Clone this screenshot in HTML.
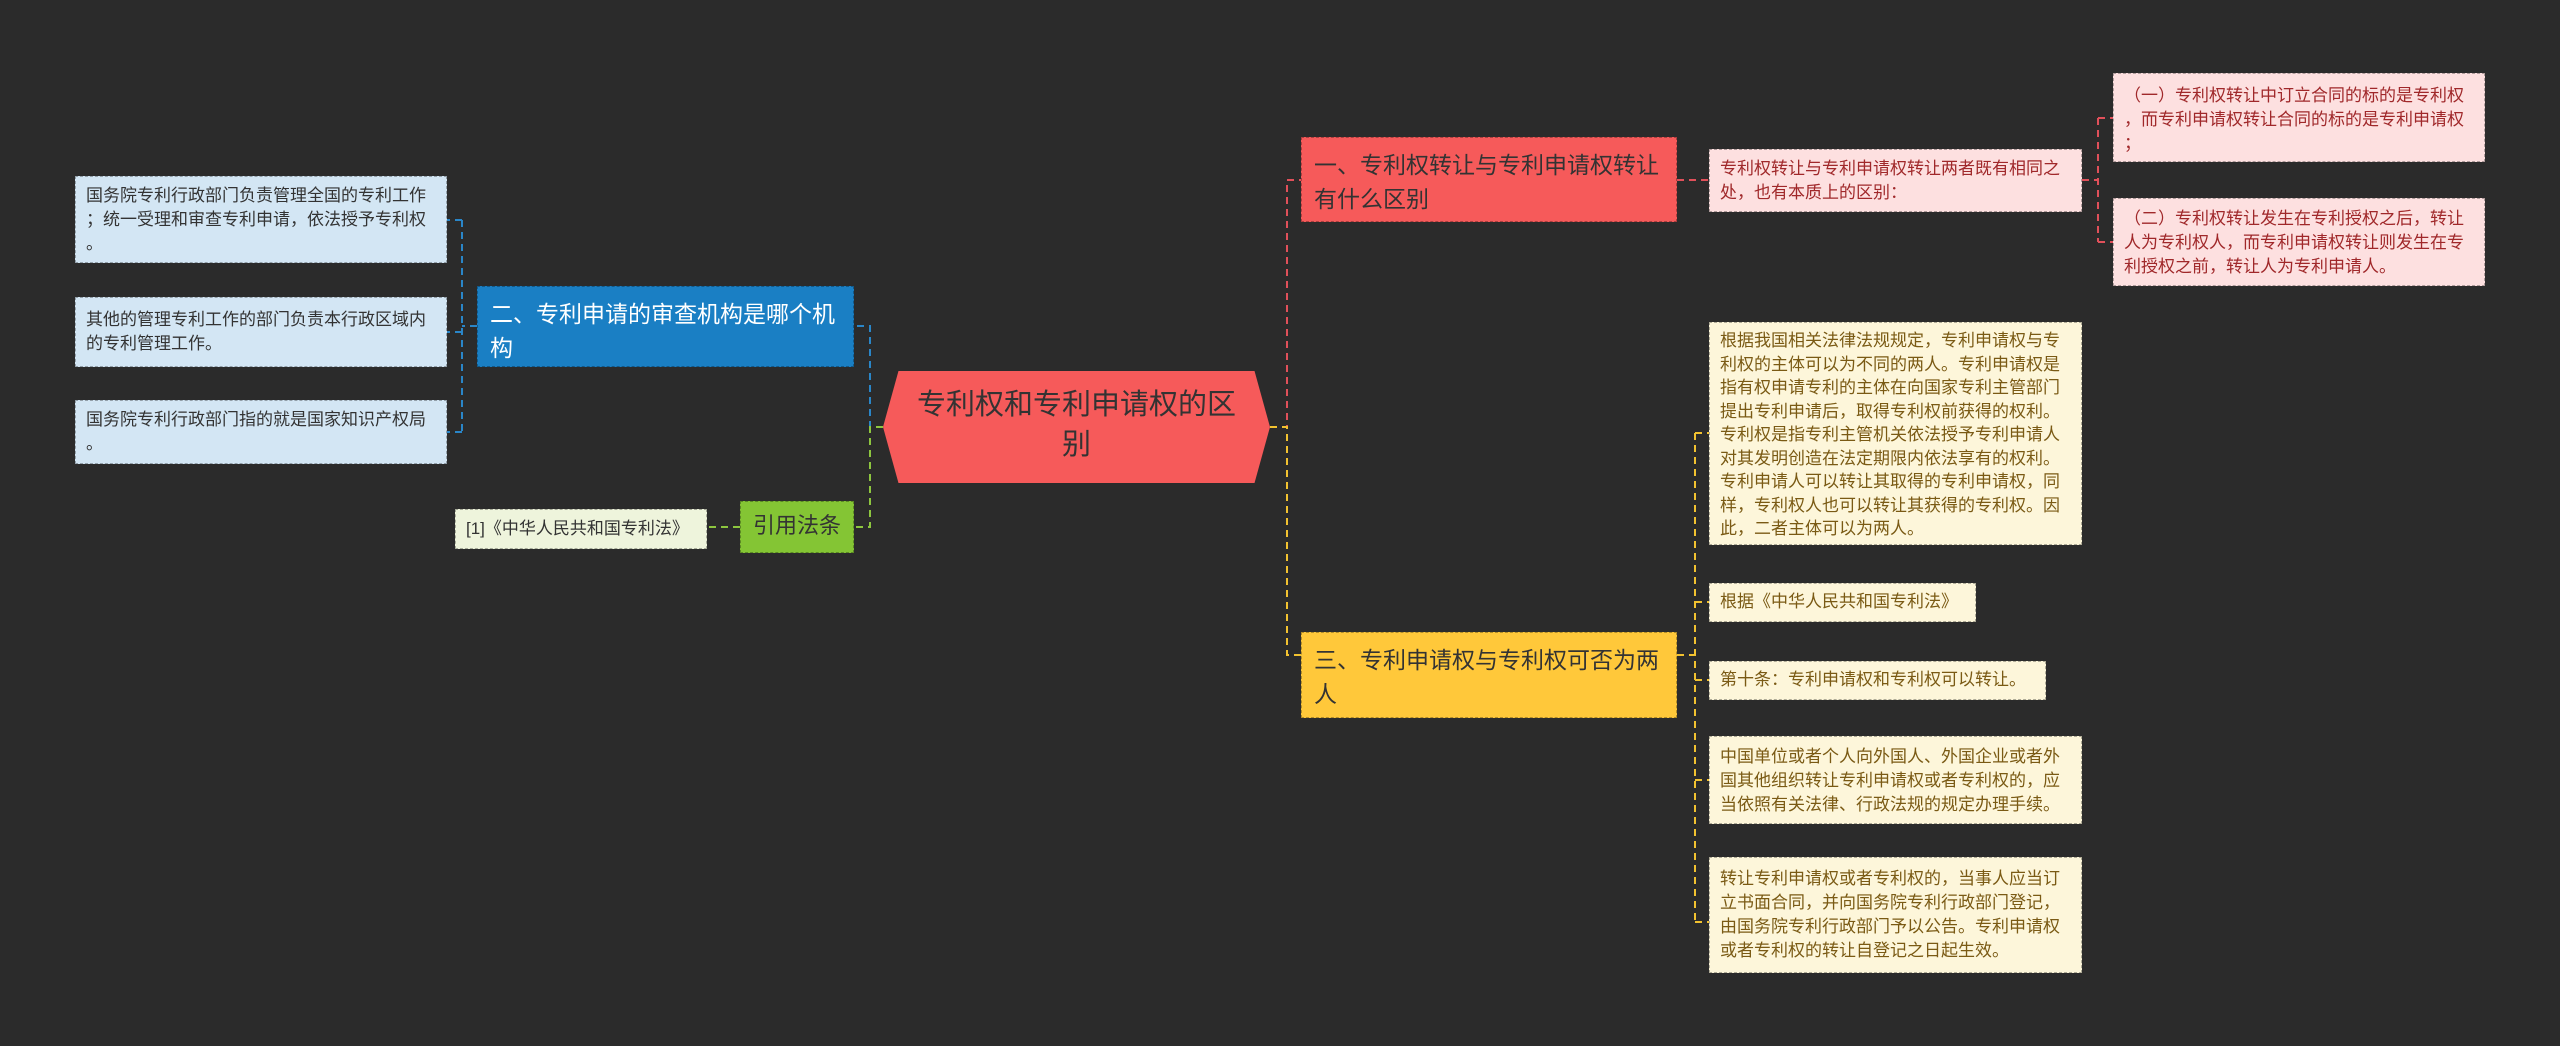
<!DOCTYPE html>
<html><head><meta charset="utf-8"><style>
body{margin:0;width:2560px;height:1046px;background:#2b2b2b;position:relative;overflow:hidden;font-family:"Liberation Sans","Noto Sans CJK SC",sans-serif}
.n{position:absolute;box-sizing:border-box;padding:7px 10px;font-size:17px;line-height:24px;border:1px dashed rgba(0,0,0,0.3);line-break:anywhere;word-break:break-all}
.lb{background:#d3e6f4;color:#333}
.pk{background:#fde0e0;color:#a0282a}
.yl{background:#fdf6da;color:#7a5a14}
.big{font-size:23px;line-height:34px;padding:10px 12px}
svg{position:absolute;left:0;top:0}
</style></head><body>
<svg width="2560" height="1046" fill="none" stroke-width="2" stroke-dasharray="7,5">
<g stroke="#2a86c8"><path d="M883 427H870V326H854"/><path d="M477 326H462M462 220V432M462 220H447M462 332H447M462 432H447"/></g>
<g stroke="#8dc63f"><path d="M883 427H870V527H854"/><path d="M740 527H707"/></g>
<g stroke="#e0505a"><path d="M1270 427H1287V180H1301"/><path d="M1677 180H1709"/><path d="M2082 180H2098M2098 118V242M2098 118H2113M2098 242H2113"/></g>
<g stroke="#f2c230"><path d="M1270 427H1287V655H1301"/><path d="M1677 655H1695M1695 433V922M1695 433H1709M1695 602H1709M1695 680H1709M1695 780H1709M1695 922H1709"/></g>
</svg>
<div class="n" style="left:883px;top:371px;width:387px;height:112px;background:#f65a5a;color:#333;font-size:29px;line-height:40px;text-align:center;padding:14px 26px;border:none;clip-path:polygon(4% 0,96% 0,100% 50%,96% 100%,4% 100%,0 50%)">专利权和专利申请权的区别</div>
<div class="n big" style="left:477px;top:286px;width:377px;height:81px;background:#1a7fc4;color:#fff">二、专利申请的审查机构是哪个机构</div>
<div class="n lb" style="left:75px;top:176px;width:372px;height:87px">国务院专利行政部门负责管理全国的专利工作；统一受理和审查专利申请，依法授予专利权。</div>
<div class="n lb" style="left:75px;top:297px;width:372px;height:70px;padding-top:10px">其他的管理专利工作的部门负责本行政区域内的专利管理工作。</div>
<div class="n lb" style="left:75px;top:400px;width:372px;height:64px">国务院专利行政部门指的就是国家知识产权局。</div>
<div class="n big" style="left:740px;top:501px;width:114px;height:52px;background:#84c534;color:#333;padding:7px 6px;font-size:22px;text-align:center">引用法条</div>
<div class="n" style="left:455px;top:509px;width:252px;height:40px;background:#eef4dc;color:#333;padding:7px 10px">[1]《中华人民共和国专利法》</div>
<div class="n big" style="left:1301px;top:137px;width:376px;height:85px;background:#f65a5a;color:#333">一、专利权转让与专利申请权转让有什么区别</div>
<div class="n pk" style="left:1709px;top:149px;width:373px;height:63px">专利权转让与专利申请权转让两者既有相同之处，也有本质上的区别：</div>
<div class="n pk" style="left:2113px;top:73px;width:372px;height:89px;padding-top:10px">（一）专利权转让中订立合同的标的是专利权，而专利申请权转让合同的标的是专利申请权；</div>
<div class="n pk" style="left:2113px;top:198px;width:372px;height:88px;padding-top:8px">（二）专利权转让发生在专利授权之后，转让人为专利权人，而专利申请权转让则发生在专利授权之前，转让人为专利申请人。</div>
<div class="n big" style="left:1301px;top:632px;width:376px;height:86px;background:#ffc83a;color:#333">三、专利申请权与专利权可否为两人</div>
<div class="n yl" style="left:1709px;top:322px;width:373px;height:223px;line-height:23.5px;padding-top:6px">根据我国相关法律法规规定，专利申请权与专利权的主体可以为不同的两人。专利申请权是指有权申请专利的主体在向国家专利主管部门提出专利申请后，取得专利权前获得的权利。专利权是指专利主管机关依法授予专利申请人对其发明创造在法定期限内依法享有的权利。专利申请人可以转让其取得的专利申请权，同样，专利权人也可以转让其获得的专利权。因此，二者主体可以为两人。</div>
<div class="n yl" style="left:1709px;top:583px;width:267px;height:39px;padding:6px 10px">根据《中华人民共和国专利法》</div>
<div class="n yl" style="left:1709px;top:661px;width:337px;height:39px;padding:6px 10px">第十条：专利申请权和专利权可以转让。</div>
<div class="n yl" style="left:1709px;top:736px;width:373px;height:88px;padding-top:8px">中国单位或者个人向外国人、外国企业或者外国其他组织转让专利申请权或者专利权的，应当依照有关法律、行政法规的规定办理手续。</div>
<div class="n yl" style="left:1709px;top:857px;width:373px;height:116px;padding-top:9px">转让专利申请权或者专利权的，当事人应当订立书面合同，并向国务院专利行政部门登记，由国务院专利行政部门予以公告。专利申请权或者专利权的转让自登记之日起生效。</div>
</body></html>
